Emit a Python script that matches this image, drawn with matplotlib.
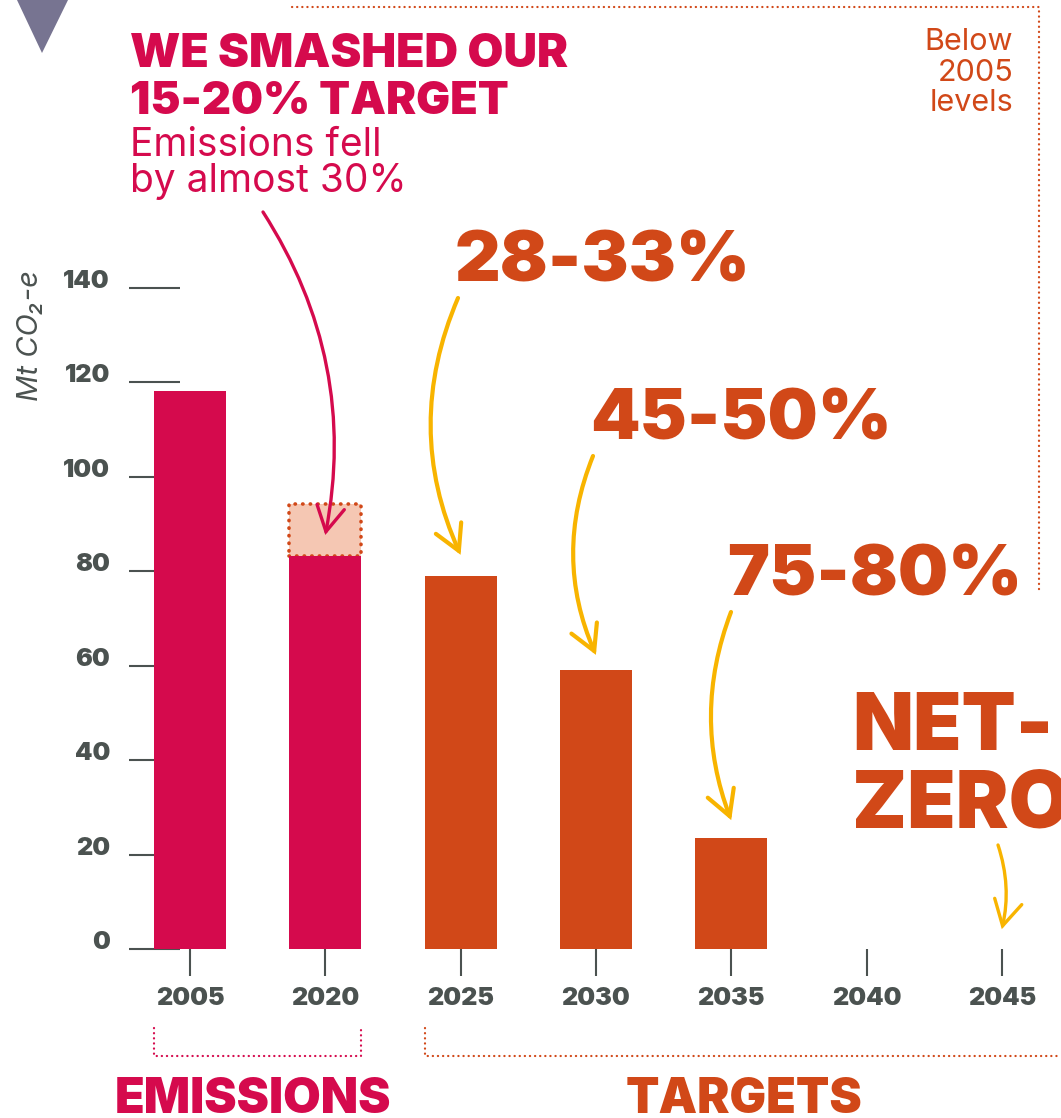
import matplotlib
matplotlib.use("Agg")
import matplotlib.pyplot as plt
from matplotlib.patches import Polygon

# data
years = ["2005", "2020", "2025", "2030", "2035", "2040", "2045"]
values = [118.2, 83.3, 79.0, 59.1, 23.5, 0, 0]
is_target = [False, False, True, True, True, True, True]
target_2020_top = 94.3
yticks = [0, 20, 40, 60, 80, 100, 120, 140]
pct_labels = ["28-33%", "45-50%", "75-80%"]

CRIMSON = "#D50A4D"
ORANGE = "#D14818"
LIGHT = "#F5C7B3"
YELLOW = "#F8B400"
GRAY = "#4B5250"
TRI = "#777491"

FAM = ["Inter", "DejaVu Sans"]
plt.rcParams["font.family"] = FAM

W, H = 1061, 1118
fig = plt.figure(figsize=(W / 100, H / 100), dpi=100)
ax = fig.add_axes([0, 0, 1, 1])
X0, XS = 190, 135.3   # pixel of first bar, pixels per category
Y0, YS = 949, 4.721   # pixel of zero, pixels per unit
ax.set_xlim(-X0 / XS, (W - X0) / XS)
ax.set_ylim((Y0 - H) / YS, Y0 / YS)
ax.axis("off")


def P(px, py):
    # pixel position in the reference -> data coords
    return ((px - X0) / XS, (Y0 - py) / YS)


bw = 0.532
xs = list(range(len(years)))

# 2020 target band
ax.bar(1, target_2020_top - values[1], bottom=values[1], width=bw, color=LIGHT,
       edgecolor=ORANGE, linewidth=2.6, linestyle=(0, (0.1, 2.0)), capstyle="round", zorder=2)
for i, v in enumerate(values):
    if v > 0:
        ax.bar(i, v, width=bw, color=ORANGE if is_target[i] else CRIMSON, zorder=3)

# axis ticks
ax.hlines(yticks, P(129, 0)[0], P(180, 0)[0], color=GRAY, lw=1.5, zorder=1)
ax.vlines(xs, P(0, 976)[1], 0, color=GRAY, lw=1.5, zorder=1)
for t in yticks:
    ax.text(P(110, 0)[0], t, str(t), ha="right", va="baseline", fontsize=18,
            fontweight="black", color=GRAY)
for i, y in enumerate(years):
    ax.text(i, P(0, 1005)[1], y, ha="center", va="baseline", fontsize=18,
            fontweight="black", color=GRAY)
ax.text(*P(31, 336), "Mt CO\u2082-e", rotation=90, ha="center", va="center",
        fontsize=21, style="italic", color=GRAY)

# triangle
ax.add_patch(Polygon([P(17, 0), P(68, 0), P(42, 53)], closed=True, color=TRI, lw=0))

# dotted frame and brackets
dot = dict(lw=1.6, linestyle=(0, (0.1, 2.2)), dash_capstyle="round")
fx, fy = zip(P(292, 7), P(1039, 7), P(1039, 593))
ax.plot(fx, fy, color=ORANGE, **dot)
b_top, b_bot = P(0, 1028)[1], P(0, 1056)[1]
ax.plot([-bw / 2, -bw / 2, 1 + bw / 2, 1 + bw / 2], [b_top, b_bot, b_bot, b_top],
        color=CRIMSON, **dot)
ax.plot([2 - bw / 2, 2 - bw / 2, P(1061, 0)[0]], [b_top, b_bot, b_bot], color=ORANGE, **dot)

ax.text(*P(253, 1113), "EMISSIONS", ha="center", va="baseline", fontsize=35,
        fontweight="black", color=CRIMSON)
ax.text(*P(744, 1113), "TARGETS", ha="center", va="baseline", fontsize=35,
        fontweight="black", color=ORANGE)

# headline
ax.text(*P(130, 67), "WE SMASHED OUR", ha="left", va="baseline", fontsize=33.5,
        fontweight="black", color=CRIMSON)
ax.text(*P(130, 114), "15-20% TARGET", ha="left", va="baseline", fontsize=32.5,
        fontweight="black", color=CRIMSON)
ax.text(*P(130, 156), "Emissions fell", ha="left", va="baseline", fontsize=28, color=CRIMSON)
ax.text(*P(130, 192), "by almost 30%", ha="left", va="baseline", fontsize=28, color=CRIMSON)

for txt, yy in zip(["Below", "2005", "levels"], [50, 81, 111]):
    ax.text(*P(1013, yy), txt, ha="right", va="baseline", fontsize=22, color=ORANGE)

# target labels
for txt, (px, py) in zip(pct_labels, [(455, 282), (590, 440), (727, 595)]):
    ax.text(*P(px, py), txt, ha="left", va="baseline", fontsize=51,
            fontweight="black", color=ORANGE)
ax.text(*P(852, 750), "NET-", ha="left", va="baseline", fontsize=57,
        fontweight="black", color=ORANGE)
ax.text(*P(852, 827), "ZERO", ha="left", va="baseline", fontsize=57,
        fontweight="black", color=ORANGE)

# arrows
def arrow(tip, start, rad, color, lw):
    ax.annotate("", xy=tip, xytext=P(*start),
                arrowprops=dict(arrowstyle="->,head_length=0.9,head_width=0.5",
                                connectionstyle="arc3,rad=%s" % rad, color=color,
                                lw=lw, shrinkA=0, shrinkB=0, mutation_scale=20,
                                capstyle="round", joinstyle="miter"), zorder=5)

arrow((1, values[1] + 4.4), (263, 212), -0.2, CRIMSON, 2.4)
arrow((2, values[2] + 4.5), (458, 298), 0.22, YELLOW, 3)
arrow((3, values[3] + 3.2), (593, 456), 0.21, YELLOW, 3)
arrow((4, values[4] + 3.8), (731, 612), 0.19, YELLOW, 3)
arrow((6, values[6] + 4.2), (998, 845), -0.14, YELLOW, 2.4)

fig.savefig("out.png", dpi=100)
